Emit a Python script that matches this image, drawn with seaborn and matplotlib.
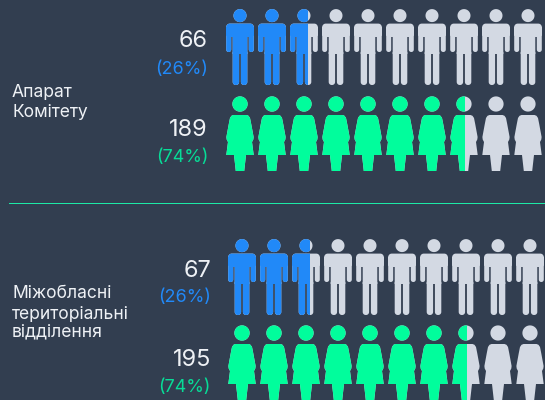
import matplotlib
matplotlib.use("Agg")
import matplotlib.pyplot as plt
from matplotlib.patches import PathPatch, Rectangle
from matplotlib.path import Path
import numpy as np
import seaborn as sns

# --- data ---
groups = ["Апарат\nКомітету", "Міжобласні\nтериторіальні\nвідділення"]
men_counts = [66, 67]
women_counts = [189, 195]
men_share = ["(26%)", "(26%)"]
women_share = ["(74%)", "(74%)"]
men_icons_filled = [2.64, 2.64]
women_icons_filled = [7.52, 7.52]
icons_per_row = 10

# --- style ---
BG = "#323e50"
GREY = "#d3d9e3"
BLUE = "#2189f8"
GREEN = "#01fd9c"
sns.set_theme(style="dark", rc={"axes.facecolor": BG, "figure.facecolor": BG})
plt.rcParams["font.family"] = ["Inter", "DejaVu Sans"]

SPACING = 32.0
ROWS = [
    dict(x0=240.0, y_man=0.0, y_woman=0.0, num_x=208),
    dict(x0=242.0, y_man=230.0, y_woman=229.0, num_x=211),
]


def circle(cx, cy, r, n=48):
    t = np.linspace(0, 2 * np.pi, n)
    return np.column_stack([cx + r * np.cos(t), cy + r * np.sin(t)])


def rounded(x0, y0, x1, y1, r):
    """closed polygon of a rounded rectangle"""
    pts = []
    for cx, cy, a0 in [(x1 - r, y0 + r, -90), (x1 - r, y1 - r, 0),
                       (x0 + r, y1 - r, 90), (x0 + r, y0 + r, 180)]:
        a = np.radians(np.linspace(a0, a0 + 90, 7))
        pts += list(zip(cx + r * np.cos(a), cy + r * np.sin(a)))
    pts.append(pts[0])
    return np.array(pts)


def compound(polys):
    verts, codes = [], []
    for p in polys:
        verts.extend(p)
        codes.extend([Path.MOVETO] + [Path.LINETO] * (len(p) - 2) + [Path.CLOSEPOLY])
    return Path(np.array(verts), codes)


def man_path(cx, dy):
    polys = [
        circle(cx, 15.6 + dy, 6.5),
        rounded(cx - 13.8, 23.6 + dy, cx + 13.8, 37 + dy, 3.5),  # shoulders
        rounded(cx - 13.8, 26 + dy, cx - 8.8, 52 + dy, 2.4),  # left arm
        rounded(cx + 8.8, 26 + dy, cx + 13.8, 52 + dy, 2.4),  # right arm
        rounded(cx - 7.3, 26 + dy, cx + 7.3, 54 + dy, 0.5),  # torso
        rounded(cx - 7.3, 50 + dy, cx - 0.9, 85 + dy, 3.0),  # left leg
        rounded(cx + 0.9, 50 + dy, cx + 7.3, 85 + dy, 3.0),  # right leg
    ]
    return compound(polys)


def woman_path(cx, dy):
    right = [
        (6.5, 115.0), (8.5, 115.8), (10.0, 118.0), (11.2, 124.0),
        (13.6, 137.0), (13.3, 139.5), (12.0, 142.0), (13.7, 155.0),
        (6.0, 155.0), (4.2, 171.0),
    ]
    outline = right + [(-a, b) for a, b in reversed(right)]
    outline.append(outline[0])
    body = np.array([(cx + a, b + dy) for a, b in outline])
    return compound([circle(cx, 104.0 + dy, 7.6), body])


fig = plt.figure(figsize=(5.45, 4.0), dpi=100)
ax = fig.add_axes([0, 0, 1, 1])
ax.set_xlim(0, 545)
ax.set_ylim(400, 0)
ax.axis("off")


def draw_row(make, x0, dy, filled, colour):
    for i in range(icons_per_row):
        cx = x0 + i * SPACING
        path = make(cx, dy)
        frac = min(max(filled - i, 0), 1)
        ax.add_patch(PathPatch(path, fc=GREY, ec="none", lw=0))
        if frac > 0:
            patch = PathPatch(path, fc=colour, ec="none", lw=0)
            ax.add_patch(patch)
            if frac < 1:
                clip = Rectangle((cx - 14, 0), 28 * frac, 400, transform=ax.transData)
                patch.set_clip_path(clip)


def px(v):
    return v * 0.72


NUM = px(23.5)
PCT = px(18)
LBL = px(17.5)
WHITE = "#eef1f5"
layout = [
    dict(label_y=[92, 112], num_y=[41, 130], pct_y=[69, 158], lbl_x=12),
    dict(label_y=[294, 314, 332], num_y=[271, 360], pct_y=[298, 387], lbl_x=12),
]
for g in range(len(groups)):
    r, l = ROWS[g], layout[g]
    draw_row(man_path, r["x0"], r["y_man"], men_icons_filled[g], BLUE)
    draw_row(woman_path, r["x0"], r["y_woman"], women_icons_filled[g], GREEN)
    for line, y in zip(groups[g].split("\n"), l["label_y"]):
        ax.text(l["lbl_x"], y, line, color=WHITE, fontsize=LBL, ha="left", va="center")
    ax.text(r["num_x"], l["num_y"][0], str(men_counts[g]), color=WHITE, fontsize=NUM, ha="right", va="center")
    ax.text(r["num_x"], l["pct_y"][0], men_share[g], color=BLUE, fontsize=PCT, ha="right", va="center")
    ax.text(r["num_x"], l["num_y"][1], str(women_counts[g]), color=WHITE, fontsize=NUM, ha="right", va="center")
    ax.text(r["num_x"], l["pct_y"][1], women_share[g], color="#07dc97", fontsize=PCT, ha="right", va="center")

ax.add_patch(Rectangle((9, 203), 536, 1, fc="#1de9a6", ec="none", lw=0, antialiased=False))

fig.savefig("out.png", dpi=100, facecolor=BG)
